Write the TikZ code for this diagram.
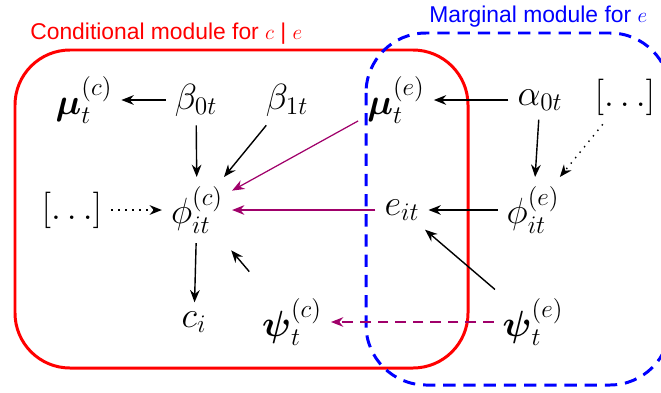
\documentclass[tikz,border=0pt]{standalone}
\usepackage{amsmath,amssymb}
\usepackage{fontspec}
\setsansfont{Liberation Sans}
\usetikzlibrary{arrows.meta, positioning, calc}
\definecolor{condcol}{HTML}{FF0000}
\definecolor{margcol}{HTML}{0000FF}
\definecolor{linkcol}{HTML}{A0006A}

\begin{document}
\begin{tikzpicture}[
    x=0.02cm, y=-0.02cm,
    >={Stealth[length=7pt, width=5.5pt]},
    var/.style={font=\fontsize{21}{25}\selectfont, inner sep=5pt},
    arrow/.style={->, line width=0.8pt, color=black},
    dotarrow/.style={->, line width=0.8pt, color=black, dash pattern=on 0.8pt off 3.2pt},
    linkarrow/.style={->, line width=0.7pt, color=linkcol},
    dlinkarrow/.style={linkarrow, dash pattern=on 6pt off 4pt},
    modlabel/.style={font=\sffamily\fontsize{13}{15}\selectfont, anchor=base west, inner sep=0pt},
]
\useasboundingbox (0,0) rectangle (661,392);
\clip (0,0) rectangle (661,392);

% ===== Module frames =====
\draw[condcol, line width=1.7pt, rounded corners=1.1cm] (15,50) rectangle (468,368);
\draw[margcol, line width=1.7pt, rounded corners=1.2cm, dash pattern=on 7pt off 4.5pt] (366,33) rectangle (670,385);

\node[modlabel, text=condcol] (condlabel) at (30,39) {Conditional module for $c$ | $e$};
\node[modlabel, text=margcol] (marglabel) at (429,22) {Marginal module for $e$};

% ===== Row 1 =====
\node[var] (muc) at (84,100) {$\boldsymbol{\mu}_t^{(c)}$};
\node[var] (beta0) at (196,100) {$\beta_{0t}$};
\node[var] (beta1) at (287,100) {$\beta_{1t}$};
\node[var] (mue) at (396,100) {$\boldsymbol{\mu}_t^{(e)}$};
\node[var] (alpha0) at (540,100) {$\alpha_{0t}$};
\node[var] (dotsr) at (625,97) {$[\ldots]$};

% ===== Row 2 =====
\node[var] (dotsl) at (72,210) {$[\ldots]$};
\node[var] (phic) at (197,210) {$\phi_{it}^{(c)}$};
\node[var] (eit) at (402,210) {$e_{it}$};
\node[var] (phie) at (533,210) {$\phi_{it}^{(e)}$};

% ===== Row 3 =====
\node[var] (ci) at (194,322) {$c_i$};
\node[var] (psic) at (292,322) {$\boldsymbol{\psi}_t^{(c)}$};
\node[var] (psie) at (533,322) {$\boldsymbol{\psi}_t^{(e)}$};

% ===== ARROWS =====
% Conditional module
\draw[arrow] (beta0) -- (muc);
\draw[arrow] (beta0) -- (phic);
\draw[arrow] (beta1) -- (phic);
\draw[dotarrow] (dotsl) -- (phic);
\draw[arrow] (phic) -- (ci);
\draw[arrow] ($(psic)!0.45!(phic)$) -- ($(psic)!0.64!(phic)$);

% Marginal module
\draw[arrow] (alpha0) -- (mue);
\draw[arrow] (alpha0) -- (phie);
\draw[dotarrow] (dotsr) -- (phie);
\draw[arrow] (phie) -- (eit);
\draw[arrow] (psie) -- (eit);

% Links from marginal to conditional
\draw[linkarrow] (mue) -- (phic);
\draw[linkarrow] (eit) -- (phic);
\draw[dlinkarrow] (psie) -- (psic);

\end{tikzpicture}
\end{document}
